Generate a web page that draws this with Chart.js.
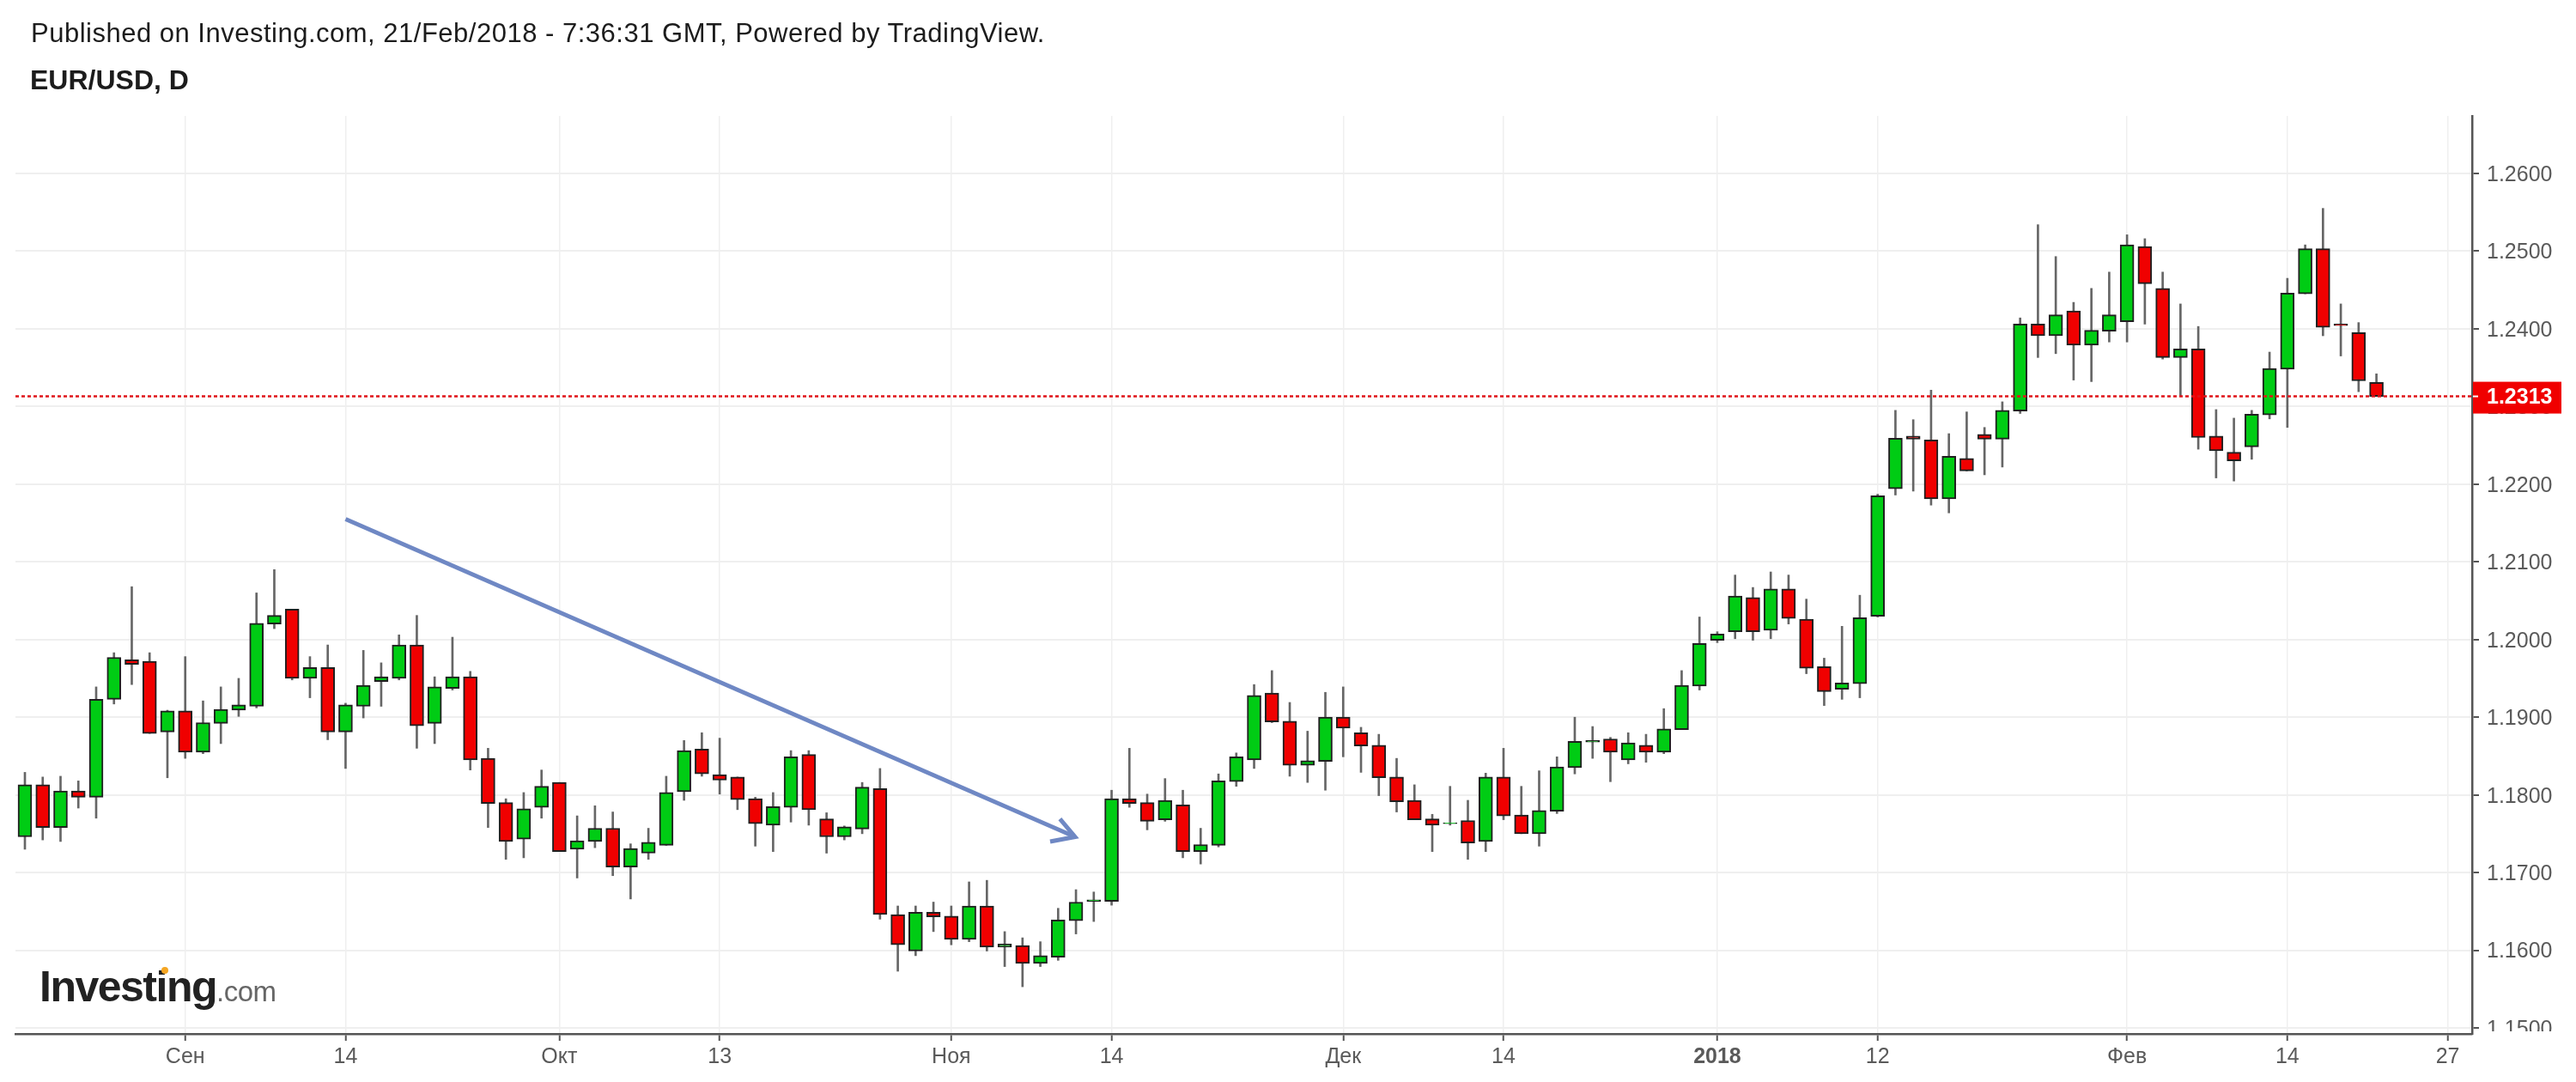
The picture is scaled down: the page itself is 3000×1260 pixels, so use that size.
<!DOCTYPE html>
<html>
<head>
<meta charset="utf-8">
<title>EUR/USD, D</title>
<script src="https://cdn.jsdelivr.net/npm/chart.js@4/dist/chart.umd.min.js"></script>
<style>
    html, body { margin: 0; background: #fff; }
    #wrap { position: relative; width: 3000px; height: 1260px; overflow: hidden; font-family: "Liberation Sans", Arial, sans-serif; }
    canvas { position: absolute; left: 0; top: 0; }
    .txt { position: absolute; white-space: nowrap; color: #1c1c1c; }
    #published { left: 36px; top: 21px; font-size: 31px; letter-spacing: 0.5px; }
    #symbol { left: 35px; top: 75px; font-size: 32px; font-weight: bold; }
    #logo { left: 46px; top: 1120px; font-size: 50px; font-weight: bold; letter-spacing: -1.5px; color: #222; }
    #logo span { font-size: 33px; font-weight: normal; letter-spacing: -0.5px; color: #666; }
    #logoDot { position: absolute; left: 188px; top: 1126px; width: 8px; height: 8px; border-radius: 50%; background: #f5a623; }
</style>
</head>
<body>
<div id="wrap">
    <canvas id="monGraphique" width="3000" height="1260"></canvas>
    <div class="txt" id="published">Published on Investing.com, 21/Feb/2018 - 7:36:31 GMT, Powered by TradingView.</div>
    <div class="txt" id="symbol">EUR/USD, D</div>
    <div class="txt" id="logo">Investing<span>.com</span></div>
    <div id="logoDot"></div>
</div>
<script>
// Daily candles (one value per trading day)
const opens = [
    1.1746,1.1813,1.1758,1.1805,1.1797,1.1923,1.1974,1.1972,1.1881,1.1908,
    1.1855,1.1892,1.1909,1.1914,1.2020,1.2039,1.1950,1.1964,1.1881,1.1914,
    1.1946,1.1950,1.1993,1.1892,1.1937,1.1952,1.1847,1.1790,1.1743,1.1784,
    1.1816,1.1730,1.1740,1.1757,1.1707,1.1725,1.1735,1.1804,1.1859,1.1826,
    1.1823,1.1795,1.1761,1.1784,1.1852,1.1769,1.1746,1.1756,1.1808,1.1646,
    1.1599,1.1649,1.1644,1.1614,1.1657,1.1604,1.1606,1.1583,1.1591,1.1638,
    1.1663,1.1663,1.1795,1.1790,1.1768,1.1787,1.1727,1.1735,1.1817,1.1845,
    1.1931,1.1895,1.1838,1.1843,1.1900,1.1880,1.1864,1.1823,1.1793,1.1769,
    1.1763,1.1767,1.1740,1.1823,1.1774,1.1750,1.1779,1.1835,1.1868,1.1872,
    1.1845,1.1864,1.1855,1.1884,1.1940,1.1999,1.2010,1.2054,1.2012,1.2065,
    1.2026,1.1965,1.1936,1.1943,1.2030,1.2194,1.2262,1.2257,1.2181,1.2233,
    1.2264,1.2258,1.2294,1.2406,1.2391,1.2423,1.2379,1.2397,1.2409,1.2506,
    1.2452,1.2363,1.2374,1.2262,1.2241,1.2248,1.2289,1.2348,1.2445,1.2503,
    1.2406,1.2395,1.2331
];
const closes = [
    1.1813,1.1758,1.1805,1.1797,1.1923,1.1977,1.1968,1.1879,1.1908,1.1855,
    1.1893,1.1910,1.1916,1.2021,1.2031,1.1950,1.1964,1.1881,1.1916,1.1941,
    1.1952,1.1993,1.1889,1.1939,1.1952,1.1845,1.1789,1.1740,1.1782,1.1811,
    1.1727,1.1741,1.1757,1.1707,1.1731,1.1739,1.1803,1.1857,1.1827,1.1819,
    1.1794,1.1763,1.1785,1.1849,1.1781,1.1746,1.1759,1.1810,1.1646,1.1607,
    1.1649,1.1643,1.1614,1.1657,1.1604,1.1608,1.1583,1.1593,1.1639,1.1662,
    1.1665,1.1795,1.1789,1.1766,1.1793,1.1727,1.1736,1.1818,1.1849,1.1928,
    1.1894,1.1838,1.1844,1.1900,1.1886,1.1863,1.1822,1.1791,1.1768,1.1761,
    1.1764,1.1738,1.1823,1.1773,1.1750,1.1780,1.1836,1.1869,1.1870,1.1855,
    1.1867,1.1855,1.1885,1.1941,1.1995,1.2007,1.2056,1.2010,1.2065,1.2027,
    1.1963,1.1933,1.1944,1.2028,1.2185,1.2259,1.2258,1.2181,1.2236,1.2217,
    1.2258,1.2295,1.2406,1.2391,1.2418,1.2379,1.2398,1.2418,1.2508,1.2458,
    1.2363,1.2374,1.2260,1.2243,1.2230,1.2290,1.2349,1.2446,1.2503,1.2402,
    1.2404,1.2333,1.2313
];
const highs = [
    1.1829,1.1823,1.1824,1.1818,1.1939,1.1983,1.2068,1.1983,1.1909,1.1978,
    1.1921,1.1939,1.1950,1.2060,1.2090,1.2039,1.1978,1.1993,1.1918,1.1986,
    1.1970,1.2006,1.2031,1.1952,1.2003,1.1959,1.1860,1.1795,1.1803,1.1832,
    1.1816,1.1773,1.1786,1.1778,1.1737,1.1757,1.1824,1.1870,1.1880,1.1873,
    1.1823,1.1797,1.1803,1.1857,1.1857,1.1777,1.1760,1.1816,1.1834,1.1657,
    1.1657,1.1662,1.1657,1.1688,1.1690,1.1624,1.1616,1.1611,1.1654,1.1678,
    1.1675,1.1806,1.1860,1.1801,1.1821,1.1806,1.1757,1.1827,1.1854,1.1942,
    1.1960,1.1919,1.1882,1.1932,1.1939,1.1887,1.1878,1.1847,1.1813,1.1775,
    1.1811,1.1793,1.1828,1.1860,1.1811,1.1831,1.1849,1.1900,1.1888,1.1874,
    1.1880,1.1878,1.1911,1.1960,1.2029,1.2010,1.2083,1.2067,1.2087,1.2083,
    1.2052,1.1976,1.2017,1.2057,1.2187,1.2295,1.2283,1.2321,1.2265,1.2293,
    1.2273,1.2306,1.2414,1.2534,1.2493,1.2434,1.2452,1.2473,1.2521,1.2516,
    1.2473,1.2432,1.2403,1.2296,1.2285,1.2295,1.2370,1.2465,1.2508,1.2555,
    1.2432,1.2408,1.2342
];
const lows = [
    1.1730,1.1742,1.1740,1.1783,1.1770,1.1917,1.1942,1.1879,1.1822,1.1847,
    1.1853,1.1866,1.1901,1.1912,1.2014,1.1948,1.1925,1.1871,1.1834,1.1899,
    1.1914,1.1948,1.1860,1.1866,1.1935,1.1832,1.1758,1.1717,1.1719,1.1770,
    1.1727,1.1693,1.1732,1.1696,1.1666,1.1717,1.1735,1.1793,1.1824,1.1801,
    1.1781,1.1734,1.1727,1.1765,1.1761,1.1725,1.1742,1.1750,1.1640,1.1573,
    1.1593,1.1624,1.1607,1.1611,1.1599,1.1579,1.1553,1.1579,1.1587,1.1621,
    1.1637,1.1658,1.1784,1.1755,1.1766,1.1719,1.1711,1.1733,1.1811,1.1834,
    1.1893,1.1824,1.1816,1.1806,1.1849,1.1829,1.1799,1.1778,1.1768,1.1727,
    1.1761,1.1717,1.1727,1.1768,1.1750,1.1734,1.1776,1.1827,1.1847,1.1817,
    1.1840,1.1842,1.1853,1.1884,1.1935,1.1996,1.2001,1.1999,1.2001,1.2020,
    1.1956,1.1915,1.1923,1.1925,1.2029,1.2186,1.2191,1.2173,1.2163,1.2217,
    1.2212,1.2222,1.2291,1.2363,1.2368,1.2334,1.2332,1.2383,1.2383,1.2406,
    1.2361,1.2313,1.2245,1.2208,1.2204,1.2232,1.2284,1.2273,1.2445,1.2391,
    1.2365,1.2319,1.2313
];

// X axis: tick positions (candle index) and their labels
const xTickIndex = [9, 18, 30, 39, 52, 61, 74, 83, 95, 104, 118, 127, 136];
const xTickLabels = ['Сен', '14', 'Окт', '13', 'Ноя', '14', 'Дек', '14', '2018', '12', 'Фев', '14', '27'];

// Y axis: price ticks
const yTicks = [1.15, 1.16, 1.17, 1.18, 1.19, 1.20, 1.21, 1.22, 1.23, 1.24, 1.25, 1.26];

// Last price (dotted line and red label)
const lastPrice = 1.2313;

// Hand-drawn arrow: [candle index, price]
const arrowLine = [[18, 1.2155], [58.95, 1.1746]];
const arrowHead = [[58.1, 1.1769], [58.95, 1.1746], [57.55, 1.1740]];

const xMin = -0.53;
const xMax = 137.37;
const yMin = 1.14923;
const yMax = 1.2674;

const GREEN = '#00cc14';
const RED = '#f00000';
const AXIS = '#555555';
const TEXT = '#5a5a5a';
const FONT = '"Liberation Sans", Arial, sans-serif';

function toPoints(list) {
    return list.map(function(p) { return { x: p[0], y: p[1] }; });
}

// Red price label + mask that cuts the bottom tick label against the axis
const pricePlugin = {
    id: 'priceLabel',
    afterDraw: function(chart) {
        const ctx = chart.ctx;
        const y = chart.scales.y.getPixelForValue(lastPrice);
        const right = chart.chartArea.right;
        ctx.save();
        ctx.fillStyle = '#ffffff';
        ctx.fillRect(right + 5, chart.chartArea.bottom - 3, 115, 40);
        ctx.fillStyle = '#f00000';
        ctx.fillRect(right + 1, y - 17, 103, 37);
        ctx.fillStyle = '#ffffff';
        ctx.fillRect(right + 1, y - 1, 6, 2);
        ctx.font = 'bold 25px ' + FONT;
        ctx.textBaseline = 'middle';
        ctx.textAlign = 'left';
        ctx.fillText(lastPrice.toFixed(4), right + 17, y + 2);
        ctx.restore();
    }
};

const ctx = document.getElementById('monGraphique').getContext('2d');
new Chart(ctx, {
    type: 'bar',
    data: {
        datasets: [
            {
                label: 'Wicks',
                data: lows.map(function(l, i) { return { x: i, y: [l, highs[i]] }; }),
                backgroundColor: '#666666',
                barThickness: 2,
                grouped: false,
                order: 3
            },
            {
                label: 'EUR/USD',
                data: opens.map(function(o, i) { return { x: i, y: [o, closes[i]] }; }),
                backgroundColor: opens.map(function(o, i) { return closes[i] >= o ? GREEN : RED; }),
                borderColor: '#1f1f1f',
                borderWidth: 2,
                borderSkipped: false,
                barThickness: 16,
                grouped: false,
                order: 2
            },
            {
                type: 'line',
                label: 'Arrow',
                data: toPoints(arrowLine),
                borderColor: '#6f88c4',
                borderWidth: 5,
                pointRadius: 0,
                order: 1
            },
            {
                type: 'line',
                label: 'Arrow head',
                data: toPoints(arrowHead),
                borderColor: '#6f88c4',
                borderWidth: 5,
                pointRadius: 0,
                order: 1
            },
            {
                type: 'line',
                label: 'Last price',
                data: toPoints([[xMin, lastPrice], [xMax, lastPrice]]),
                borderColor: '#e0141a',
                borderWidth: 2.5,
                borderDash: [4, 3],
                pointRadius: 0,
                order: 0
            }
        ]
    },
    options: {
        responsive: false,
        animation: false,
        devicePixelRatio: 1,
        layout: { padding: { left: 18, top: 135, right: 0, bottom: 0 } },
        plugins: {
            legend: { display: false },
            tooltip: { enabled: false },
            title: { display: false }
        },
        scales: {
            x: {
                type: 'linear',
                offset: false,
                min: xMin,
                max: xMax,
                afterFit: function(scale) { scale.height = 56; },
                afterBuildTicks: function(scale) {
                    scale.ticks = xTickIndex.map(function(v) { return { value: v }; });
                },
                grid: { offset: false, color: '#efefef', lineWidth: 1.5, tickColor: AXIS, tickLength: 8, tickWidth: 2 },
                border: { color: AXIS, width: 2.5 },
                ticks: {
                    autoSkip: false,
                    maxRotation: 0,
                    padding: 4,
                    color: TEXT,
                    font: function(c) {
                        const isYear = c.tick && c.tick.value === 95;
                        return { family: FONT, size: 25, weight: isYear ? 'bold' : 'normal' };
                    },
                    callback: function(value) {
                        return xTickLabels[xTickIndex.indexOf(value)];
                    }
                }
            },
            y: {
                type: 'linear',
                position: 'right',
                min: yMin,
                max: yMax,
                afterFit: function(scale) { scale.width = 121; },
                afterBuildTicks: function(scale) {
                    scale.ticks = yTicks.map(function(v) { return { value: v }; });
                },
                grid: { color: '#efefef', lineWidth: 2, tickColor: AXIS, tickLength: 8, tickWidth: 2 },
                border: { color: AXIS, width: 2.5 },
                ticks: {
                    autoSkip: false,
                    padding: 9,
                    labelOffset: 2,
                    color: TEXT,
                    font: { family: FONT, size: 25 },
                    callback: function(value) { return value.toFixed(4); }
                }
            }
        }
    },
    plugins: [pricePlugin]
});
</script>
</body>
</html>
